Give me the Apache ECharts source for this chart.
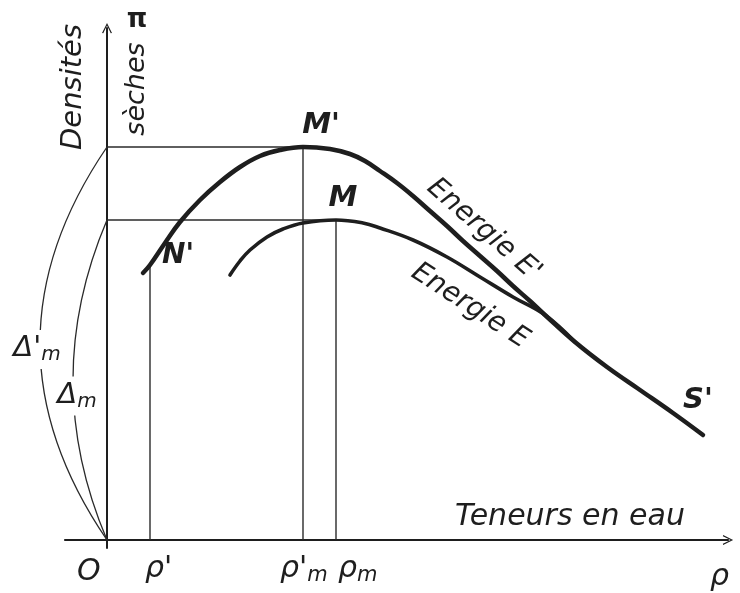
<!DOCTYPE html>
<html>
<head>
<meta charset="utf-8">
<script src="https://cdn.jsdelivr.net/npm/echarts@6/dist/echarts.min.js"></script>
<style>
  html, body { margin: 0; padding: 0; background: #ffffff; }
  #chart { width: 740px; height: 593px; }
</style>
</head>
<body>
<div id="chart"></div>
<script>
// Courbes Proctor : teneur en eau (abscisse) et densité sèche (ordonnée), unités schématiques
const curveEprime = [[36,267],[43,275],[58,297],[73,318],[93,340],[113,358],[133,373],[153,384],[173,390],[196,393],[223,391],[243,386],[258,379],[273,369],[290,357],[306,344],[323,329],[340,314],[356,299],[373,284],[390,269],[406,254],[423,239],[438,225],[468,198],[500,173],[533,150],[566,127],[596,105]];
const curveE = [[123,265],[133,279],[143,290],[160,303],[176,311],[196,317],[229,320],[256,317],[273,312],[306,300],[340,283],[373,263],[406,243],[438,225],[468,198]];

// Points remarquables
const optimumEprime = [196, 393];   // M'
const optimumE = [229, 320];        // M
const pointN = [43, 275];           // N'
const pointNames = ["M'", "M", "N'", "S'"];

// Repères sur l'axe des teneurs en eau
const tickValues = [0, 43, 196, 229, 621];
const tickLabels = ["O", "ρ'", "ρ'_m", "ρ_m", "ρ"];

// Densités maximales reportées depuis l'origine
const deltaValues = [optimumEprime[1], optimumE[1]];
const deltaLabels = ["Δ'_m", "Δ_m"];

// Titres
const curveNames = ["Energie E'", "Energie E"];
const yTitle = ["Densités", "sèches", "π"];
const xTitle = "Teneurs en eau";

const INK = '#1e1e1e';
const FAMILY = '"DejaVu Sans"';

function richText(s) {
  const parts = s.split('_');
  return '{a|' + parts[0] + '}' + (parts[1] ? '{s|' + parts[1] + '}' : '');
}
function richStyles(size, drop) {
  return {
    a: { font: 'italic ' + size + 'px ' + FAMILY, fill: INK, lineHeight: size + 2, verticalAlign: 'top' },
    s: { font: 'italic ' + Math.round(size * 0.7) + 'px ' + FAMILY, fill: INK, lineHeight: 22, verticalAlign: 'bottom', padding: [drop, 0, 0, 0] }
  };
}

const chart = echarts.init(document.getElementById('chart'), null, { renderer: 'canvas' });

// Segments de construction (horizontales et verticales des optimums)
const guides = [
  [0, optimumEprime[1], optimumEprime[0], optimumEprime[1]],
  [optimumEprime[0], 0, optimumEprime[0], optimumEprime[1]],
  [0, optimumE[1], optimumE[0], optimumE[1]],
  [optimumE[0], 0, optimumE[0], optimumE[1]],
  [pointN[0], 0, pointN[0], pointN[1]]
];

// Textes : point d'ancrage en données, décalage écran en pixels
const axisTop = [0, 512];
const lastE = curveEprime[curveEprime.length - 1];
const anchorEp = curveEprime.find(p => p[0] === 373);
const anchorE = curveE.find(p => p[0] === 373);
const notes = [
  { text: pointNames[0], at: optimumEprime, dx: 18, dy: -22, font: 'italic bold 29px' },
  { text: pointNames[1], at: optimumE, dx: 7, dy: -22, font: 'italic bold 29px' },
  { text: pointNames[2], at: pointN, dx: 28, dy: -9, font: 'italic bold 28px' },
  { text: pointNames[3], at: lastE, dx: -5, dy: -35, font: 'italic bold 29px' },
  { text: curveNames[0], at: anchorEp, dx: 4, dy: -26, rot: -41, font: 'italic 28px' },
  { text: curveNames[1], at: anchorE, dx: -10, dy: 29, rot: -33, font: 'italic 28px' },
  { text: yTitle[0], at: axisTop, dx: -34, dy: 59, rot: 90, font: 'italic 29px' },
  { text: yTitle[1], at: axisTop, dx: 30, dy: 61, rot: 90, font: 'italic 27px' },
  { text: yTitle[2], at: axisTop, dx: 30, dy: -8, font: 'bold 26px' },
  { text: xTitle, at: [463, 0], dx: 0, dy: -23, font: 'italic 30px' }
];
const tickShift = [[-30, 33], [-5, 30], [-23, 30], [2, 30], [-18, 38]];
tickValues.forEach((v, i) => {
  notes.push({ text: richText(tickLabels[i]), at: [v, 0], dx: tickShift[i][0], dy: tickShift[i][1], rich: richStyles(30, 16), align: 'left' });
});

const arrowPath = 'path://M0,20 L10,0 L20,20 L17.5,20.5 L10,5 L2.5,20.5 Z';

chart.setOption({
  backgroundColor: '#ffffff',
  animation: false,
  grid: { left: 65, right: 12, top: 28, bottom: 45, outerBoundsMode: 'none' },
  xAxis: {
    type: 'value', min: -42, max: 621,
    axisLine: { onZero: true, lineStyle: { color: INK, width: 2.2 }, symbol: ['none', arrowPath], symbolSize: [10, 16] },
    axisTick: { show: false }, axisLabel: { show: false }, splitLine: { show: false }
  },
  yAxis: {
    type: 'value', min: -8, max: 512,
    axisLine: { show: true, onZero: true, lineStyle: { color: INK, width: 2 }, symbol: ['none', arrowPath], symbolSize: [10, 16] },
    axisTick: { show: false }, axisLabel: { show: false }, splitLine: { show: false }
  },
  series: [
    {
      type: 'custom',
      name: 'guides',
      encode: { x: [0, 2], y: [1, 3] },
      data: guides,
      z: 2,
      renderItem: function (params, api) {
        const p1 = api.coord([api.value(0), api.value(1)]);
        const p2 = api.coord([api.value(2), api.value(3)]);
        return {
          type: 'line',
          shape: { x1: p1[0], y1: p1[1], x2: p2[0], y2: p2[1] },
          style: { stroke: '#2a2a2a', lineWidth: 1.4 }
        };
      }
    },
    {
      type: 'custom',
      name: 'deltas',
      encode: { x: 0, y: 1 },
      data: deltaValues.map(v => [0, v]),
      z: 2,
      renderItem: function (params, api) {
        const i = params.dataIndex;
        const bulge = [67, 34][i];
        const textShift = [[-3, 6], [4, 16]][i];
        const p0 = api.coord([0, 0]);
        const p1 = api.coord([0, api.value(1)]);
        const midY = (p0[1] + p1[1]) / 2;
        return {
          type: 'group',
          children: [
            {
              type: 'bezierCurve',
              shape: { x1: p0[0], y1: p0[1], x2: p1[0], y2: p1[1], cpx1: p0[0] - 2 * bulge, cpy1: midY },
              style: { stroke: '#2a2a2a', lineWidth: 1.3, fill: null }
            },
            {
              type: 'text',
              x: p0[0] - bulge + textShift[0],
              y: midY + textShift[1],
              style: {
                text: richText(deltaLabels[i]),
                rich: richStyles(29, 14),
                align: 'center', verticalAlign: 'middle',
                backgroundColor: '#ffffff', padding: [4, 2, 4, 2]
              }
            }
          ]
        };
      }
    },
    {
      type: 'line',
      name: "Energie E'",
      data: curveEprime,
      smooth: 0.4,
      symbol: 'none',
      z: 4,
      lineStyle: { color: INK, width: 4.5, cap: 'round', join: 'round' }
    },
    {
      type: 'line',
      name: 'Energie E',
      data: curveE,
      smooth: 0.4,
      symbol: 'none',
      z: 4,
      lineStyle: { color: INK, width: 3.6, cap: 'round', join: 'round' }
    },
    {
      type: 'custom',
      name: 'annotations',
      encode: { x: 0, y: 1 },
      data: notes.map(n => n.at),
      z: 5,
      renderItem: function (params, api) {
        const n = notes[params.dataIndex];
        const p = api.coord([api.value(0), api.value(1)]);
        const style = {
          text: n.text,
          fill: INK,
          align: n.align || 'center',
          verticalAlign: 'middle'
        };
        if (n.rich) { style.rich = n.rich; } else { style.font = n.font + ' ' + FAMILY; }
        return {
          type: 'text',
          x: p[0] + n.dx,
          y: p[1] + n.dy,
          rotation: (n.rot || 0) * Math.PI / 180,
          style: style
        };
      }
    }
  ]
});
</script>
</body>
</html>
